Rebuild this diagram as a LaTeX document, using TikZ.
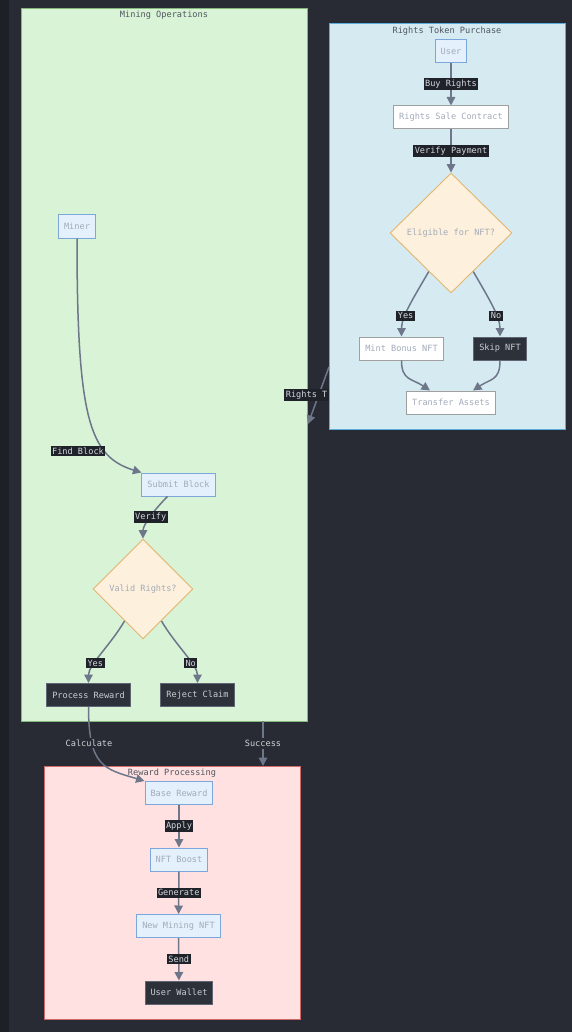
\documentclass[tikz,border=0pt]{standalone}
\usepackage{fontspec}
\setmonofont{DejaVu Sans Mono}
\usepackage{xcolor}
\usetikzlibrary{arrows.meta,shapes.geometric}
\definecolor{bgdark}{HTML}{282B33}
\definecolor{bgstrip}{HTML}{1D2027}
\definecolor{minefill}{HTML}{D8F3D6}
\definecolor{mineline}{HTML}{84B77A}
\definecolor{buyfill}{HTML}{D5EBF1}
\definecolor{buyline}{HTML}{5AAEDC}
\definecolor{rewfill}{HTML}{FFE1E1}
\definecolor{rewline}{HTML}{D06A6A}
\definecolor{boxfill}{HTML}{E4F0FC}
\definecolor{boxline}{HTML}{7CA7DA}
\definecolor{boxtext}{HTML}{A3ABBA}
\definecolor{choicefill}{HTML}{FDF0DC}
\definecolor{choiceline}{HTML}{E2B570}
\definecolor{darkfill}{HTML}{2D313A}
\definecolor{darkline}{HTML}{5F6572}
\definecolor{darktext}{HTML}{C9CDD5}
\definecolor{labfill}{HTML}{1F2228}
\definecolor{labtext}{HTML}{D4D8E0}
\definecolor{edgecol}{HTML}{6E768A}
\definecolor{titletext}{HTML}{50555F}

\begin{document}
\begin{tikzpicture}[x=1pt, y=-1pt, font=\ttfamily\fontsize{8.6}{10}\selectfont,
cluster/.style={draw, line width=0.9pt, inner sep=0pt},
ctitle/.style={text=titletext, inner sep=1pt},
box/.style={rectangle, draw=boxline, fill=boxfill, text=boxtext, line width=1pt, minimum height=23pt, inner xsep=5.5pt, inner ysep=0pt},
plain box/.style={box, draw=gray!75, fill=white},
dark box/.style={box, draw=darkline, fill=darkfill, text=darktext},
choice/.style={diamond, draw=choiceline, fill=choicefill, text=boxtext, line width=0.9pt, inner sep=0pt},
lab/.style={fill=labfill, text=labtext, inner xsep=1.5pt, inner ysep=1.8pt},
note/.style={fill=bgdark, text=darktext!90, inner xsep=2pt, inner ysep=2pt},
edge/.style={draw=edgecol, line width=1.5pt, -{Triangle[length=8.5pt,width=8.5pt]}}]

\fill[bgdark] (0,0) rectangle (572,1032);
\fill[bgstrip] (0,0) rectangle (9,1032);
\useasboundingbox (0,0) rectangle (572,1032);

\node[cluster, draw=mineline, fill=minefill, minimum width=286pt, minimum height=713pt] (mining) at (164,364.5) {};
\node[ctitle] (minetitle) at (164,15) {Mining Operations};
\node[cluster, draw=rewline, fill=rewfill, minimum width=256pt, minimum height=253pt] (reward) at (172,892.5) {};
\node[ctitle] (rewtitle) at (172,773) {Reward Processing};

\coordinate (rt a) at (329,367);
\coordinate (rt b) at (308,424);
\path[edge] (rt a) -- (rt b);
\node[lab, anchor=east] (rtlab) at (329,395) {Rights T};

\node[cluster, draw=buyline, fill=buyfill, minimum width=236pt, minimum height=406pt] (buying) at (447,226) {};
\node[ctitle] (buytitle) at (447,31) {Rights Token Purchase};

\node[box] (user) at (451,51) {User};
\node[plain box] (contract) at (451,117.5) {Rights Sale Contract};
\node[choice, minimum width=122pt, minimum height=120pt] (eligible) at (451,233) {Eligible for NFT?};
\node[plain box] (mint) at (401.5,348.5) {Mint Bonus NFT};
\node[dark box] (skip) at (500,348.5) {Skip NFT};
\node[plain box] (transfer) at (451,402.5) {Transfer Assets};

\node[box] (miner) at (77,226.5) {Miner};
\node[box] (submit) at (178.5,484.5) {Submit Block};
\node[choice, minimum width=100pt, minimum height=100pt] (valid) at (143,589) {Valid Rights?};
\node[dark box] (process) at (88.5,695) {Process Reward};
\node[dark box] (reject) at (197.5,695) {Reject Claim};

\node[box] (base) at (179,793) {Base Reward};
\node[box] (boost) at (179,859.5) {NFT Boost};
\node[box] (newnft) at (178.5,926) {New Mining NFT};
\node[dark box] (wallet) at (179,992.5) {User Wallet};

\coordinate (succ a) at (263,721);
\coordinate (succ b) at (263,766);

\path[edge] (user) -- node[lab] {Buy Rights} (contract);
\path[edge] (contract) -- node[lab] {Verify Payment} (eligible);
\path[edge] (eligible.-120) .. controls +(-15,26) and +(0,-20) .. node[lab, pos=0.65] {Yes} (mint.north);
\path[edge] (eligible.-60) .. controls +(15,26) and +(0,-20) .. node[lab, pos=0.65] {No} (skip.north);
\path[edge] (mint.south) .. controls +(0,20) and +(-18,-12) .. ([xshift=-21pt]transfer.north);
\path[edge] (skip.south) .. controls +(0,20) and +(18,-12) .. ([xshift=22pt]transfer.north);

\path[edge] (miner.south) .. controls +(0,180) and +(-52,-16) .. (submit.north west);
\node[lab] (findlab) at (78,451) {Find Block};
\path[edge] ([xshift=-11pt]submit.south) .. controls +(-12,12) and +(0,-14) .. node[lab, pos=0.5] {Verify} (valid.north);
\path[edge] (valid.-120) .. controls +(-14,24) and +(0,-18) .. node[lab, pos=0.65] {Yes} (process.north);
\path[edge] (valid.-60) .. controls +(14,24) and +(0,-18) .. node[lab, pos=0.65] {No} (reject.north);

\path[edge] (process.south) .. controls +(0,60) and +(-40,-12) .. (base.north west);
\node[note] (calclab) at (89,743) {Calculate};
\path[edge] (succ a) -- node[note] {Success} (succ b);

\path[edge] (base) -- node[lab] {Apply} (boost);
\path[edge] (boost) -- node[lab] {Generate} (newnft);
\path[edge] (newnft) -- node[lab] {Send} (wallet);
\end{tikzpicture}
\end{document}
